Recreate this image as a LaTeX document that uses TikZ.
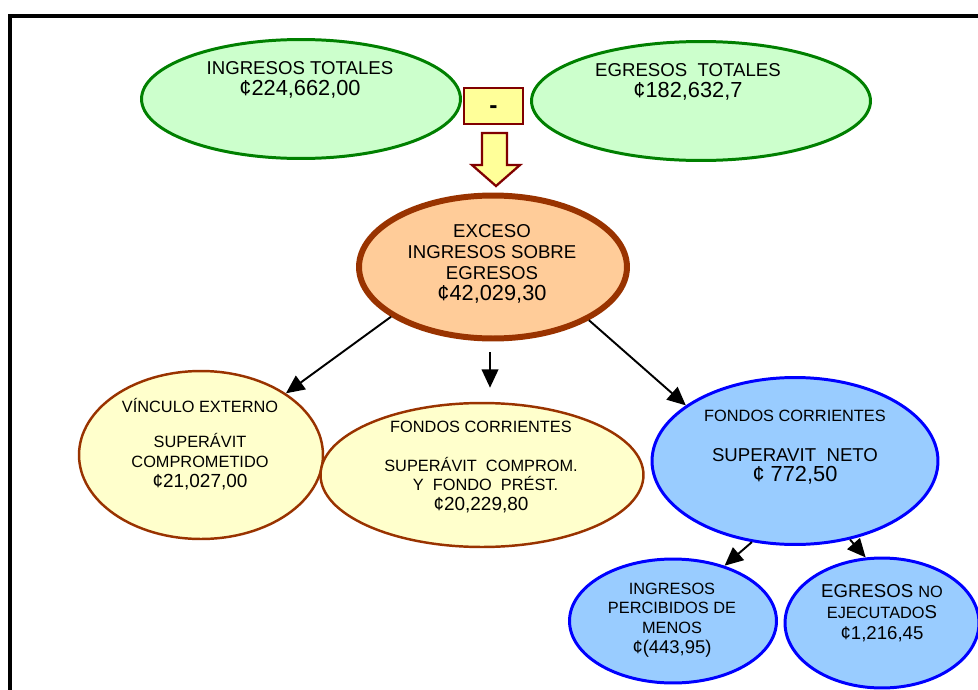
\documentclass[tikz,border=0pt]{standalone}
\usepackage{fontspec}
\setmainfont{Liberation Sans}
\usepackage{xcolor}
\usepackage{tikz}
\usetikzlibrary{shapes,shapes.geometric}
\usetikzlibrary{calc,arrows,arrows.meta,positioning}

\definecolor{verde}{HTML}{008000}
\definecolor{verdeclaro}{HTML}{CCFFCC}
\definecolor{granate}{HTML}{800000}
\definecolor{amarillo}{HTML}{FFFF99}
\definecolor{cafe}{HTML}{993300}
\definecolor{durazno}{HTML}{FFCC99}
\definecolor{crema}{HTML}{FFFFCC}
\definecolor{azul}{HTML}{0000FF}
\definecolor{celeste}{HTML}{99CCFF}

\newcommand{\chico}{\fontsize{9.3}{11.2}\selectfont}
\newcommand{\grande}{\fontsize{10.6}{12}\selectfont}
\newcommand{\precio}{\fontsize{12.4}{13}\selectfont}
\newcommand{\preciochico}{\fontsize{10.8}{11.6}\selectfont}

\begin{document}
\begin{tikzpicture}
[x=0.02cm,y=-0.02cm,every node/.style={inner sep=0pt},
	elip/.style={shape=ellipse,draw},
	total/.style={elip,draw=verde,fill=verdeclaro,line width=1.7pt},
	exceso/.style={elip,draw=cafe,fill=durazno,line width=3.4pt},
	fondo/.style={elip,draw=cafe,fill=crema,line width=1.4pt},
	neto/.style={elip,draw=azul,fill=celeste,line width=1.7pt},
	txt/.style={align=center,font=\chico},
	txtg/.style={align=center,font=\grande},
	flecha/.style={-{Triangle[length=10.5pt,width=9.5pt]},line width=1.1pt}]
\clip (0,0) rectangle (978,690);
\draw[line width=2.3pt] (10,16) rectangle (1010,720);

% suma de arriba
\node[total,minimum width=6.38cm,minimum height=2.38cm] (ing) at (301,99) {};
\node[txtg] (ingT) at (300,80) {INGRESOS TOTALES\\{\precio ¢224,662,00}};
\node[total,minimum width=6.78cm,minimum height=2.38cm] (egr) at (701,101) {};
\node[txtg] (egrT) at (688,82) {EGRESOS\ \ TOTALES\\{\precio ¢182,632,7}};
\node[draw=granate,fill=amarillo,line width=1.5pt,minimum width=1.18cm,
	minimum height=0.72cm] (menos) at (493.5,106) {};
\node[font=\bfseries\fontsize{14}{14}\selectfont] (menosT) at (493.5,110) {-};
\draw[granate,fill=amarillo,line width=1.3pt]
	(482,133) -- (507,133) -- (507,165) -- (520,165) -- (496,186)
	-- (472,165) -- (482,165) -- cycle;

% exceso
\node[exceso,minimum width=5.36cm,minimum height=2.86cm] (exc) at (493,267) {};
\node[txtg] (excT) at (492,264) {EXCESO\\INGRESOS SOBRE\\EGRESOS\\{\precio ¢42,029,30}};

% destino
\node[fondo,minimum width=4.88cm,minimum height=3.36cm] (vinc) at (201,455) {};
\node[txt] (vincT) at (200,444) {VÍNCULO EXTERNO\\[9pt]SUPERÁVIT\\COMPROMETIDO\\{\preciochico ¢21,027,00}};
\node[fondo,minimum width=6.46cm,minimum height=2.88cm] (fcomp) at (482,475) {};
\node[txt] (fcompT) at (481,467) {FONDOS CORRIENTES\\[11pt]SUPERÁVIT\ \ COMPROM.\\\ \ Y\ \ FONDO\ \ PRÉST.\\{\preciochico ¢20,229,80}};
\node[neto,minimum width=5.72cm,minimum height=3.34cm] (neto) at (795,461) {};
\node[txt] (netoT) at (795,447) {FONDOS CORRIENTES\\[12pt]{\grande SUPERAVIT\ \ NETO}\\{\precio ¢ 772,50}};

% detalle del neto
\node[neto,minimum width=4.14cm,minimum height=2.48cm] (perc) at (673,621) {};
\node[txt] (percT) at (672,620) {INGRESOS\\PERCIBIDOS DE\\MENOS\\{\fontsize{10.5}{11.4}\selectfont ¢(443,95)}};
\node[neto,minimum width=3.88cm,minimum height=2.6cm] (noej) at (882,623) {};
\node[txtg] (noejT) at (882,613) {EGRESOS {\chico NO}\\{\chico EJECUTADO}S\\¢1,216,45};

\draw[flecha] ([xshift=-1.7pt,yshift=-6pt]exc.south) -- ([xshift=-1.7pt,yshift=8pt]exc.south |- fcomp.north);
\path
\foreach \startNode/\endNode in {exc.206/vinc.36,exc.331/neto.153,neto.242/perc.47,neto.305/noej.104}
{
	(\startNode) edge[flecha] (\endNode)
};
\end{tikzpicture}
\end{document}
